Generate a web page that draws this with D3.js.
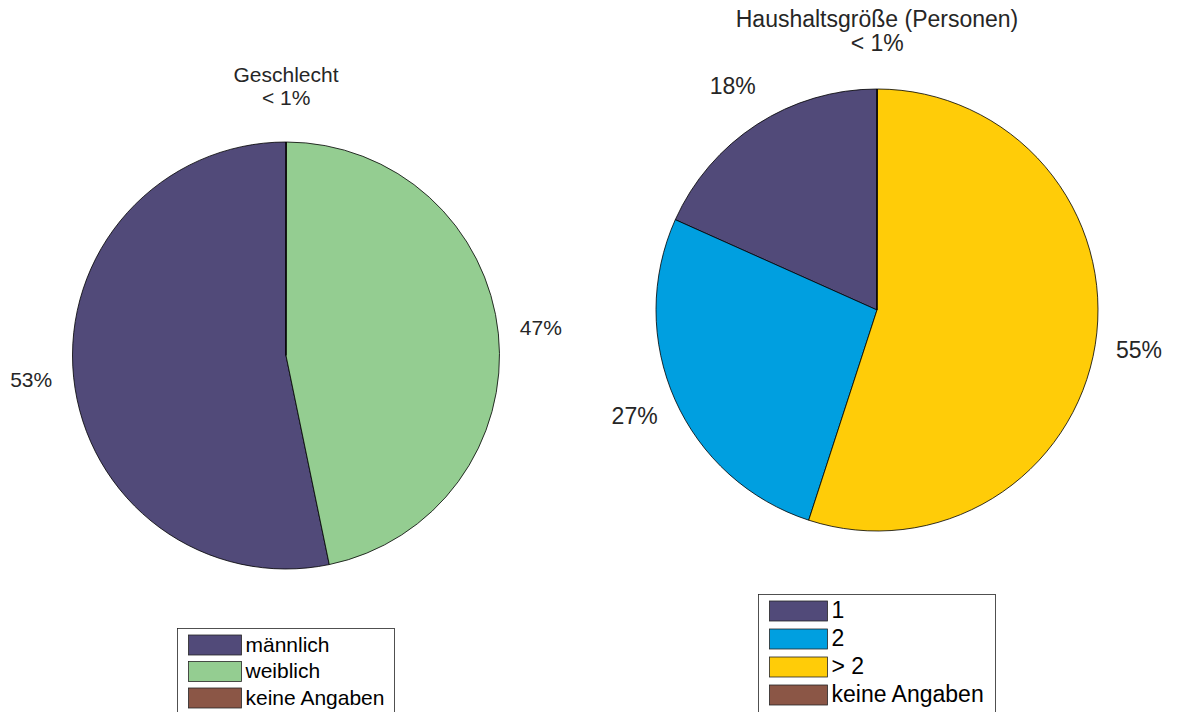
<!DOCTYPE html>
<html><head><meta charset="utf-8">
<script src="https://cdn.jsdelivr.net/npm/d3@7"></script>
<style>body{margin:0;background:#fff}svg{display:block;font-family:"Liberation Sans",Arial,sans-serif}</style>
</head><body>
<svg id="c" width="1177" height="712"></svg>
<script>
const genderCats = ["männlich", "weiblich", "keine Angaben"];
const genderVals = [53.25, 46.73, 0.02];
const genderLabels = ["53%", "47%", "< 1%"];
const hhCats = ["1", "2", "> 2", "keine Angaben"];
const hhVals = [18.3, 26.7, 54.98, 0.02];
const hhLabels = ["18%", "27%", "55%", "< 1%"];
const genderColors = ["#514a79", "#94cd91", "#8b5646"];
const hhColors = ["#514a79", "#009fe0", "#ffcc08", "#8b5646"];

const svg = d3.select("#c");

function drawPie(cfg) {
  const FS = cfg.fs;
  const g = svg.append("g").attr("transform", `translate(${cfg.cx},${cfg.cy})`);
  const pie = d3.pie().sort(null).startAngle(0).endAngle(-2 * Math.PI);
  const arcs = pie(cfg.vals);
  const arc = d3.arc().innerRadius(0).outerRadius(cfg.r);
  g.selectAll("path").data(arcs).join("path")
    .attr("d", arc).attr("fill", (d, i) => cfg.colors[i])
    .attr("stroke", "#000").attr("stroke-width", 0.8);
  g.selectAll("text.lbl").data(arcs).join("text").attr("class", "lbl")
    .attr("x", d => Math.sin((d.startAngle + d.endAngle) / 2) * cfg.r * 1.2)
    .attr("y", d => -Math.cos((d.startAngle + d.endAngle) / 2) * cfg.r * 1.2)
    .attr("text-anchor", "middle").attr("dominant-baseline", "middle")
    .attr("font-size", FS).attr("fill", "#262626")
    .text((d, i) => cfg.labels[i]);
  svg.append("text").attr("x", cfg.cx).attr("y", cfg.titleY)
    .attr("text-anchor", "middle").attr("dominant-baseline", "middle")
    .attr("font-size", FS).attr("fill", "#262626").text(cfg.title);
  const L = cfg.legend;
  const lg = svg.append("g");
  lg.append("rect").attr("x", L.x).attr("y", L.y).attr("width", L.w).attr("height", L.h)
    .attr("fill", "#fff").attr("stroke", "#262626").attr("stroke-width", 0.8);
  cfg.cats.forEach((c, i) => {
    const y = L.y + L.first + i * L.pitch;
    lg.append("rect").attr("x", L.x + 11).attr("y", y).attr("width", L.sw).attr("height", 20)
      .attr("fill", cfg.colors[i]).attr("stroke", "#262626").attr("stroke-width", 0.8);
    lg.append("text").attr("x", L.x + 11 + L.sw + 4).attr("y", y + 11)
      .attr("dominant-baseline", "middle").attr("font-size", FS).attr("fill", "#000").text(c);
  });
}

drawPie({cx: 286, cy: 355.5, r: 213.5, fs: 21, vals: genderVals, colors: genderColors, labels: genderLabels,
  title: "Geschlecht", titleY: 76, cats: genderCats,
  legend: {x: 177.5, y: 628.5, w: 217, h: 90, first: 6.5, pitch: 26.5, sw: 53}});
drawPie({cx: 877, cy: 310, r: 221, fs: 23, vals: hhVals, colors: hhColors, labels: hhLabels,
  title: "Haushaltsgröße (Personen)", titleY: 21, cats: hhCats,
  legend: {x: 758.5, y: 594.5, w: 237, h: 124, first: 6.5, pitch: 28, sw: 58}});
</script>
</body></html>
